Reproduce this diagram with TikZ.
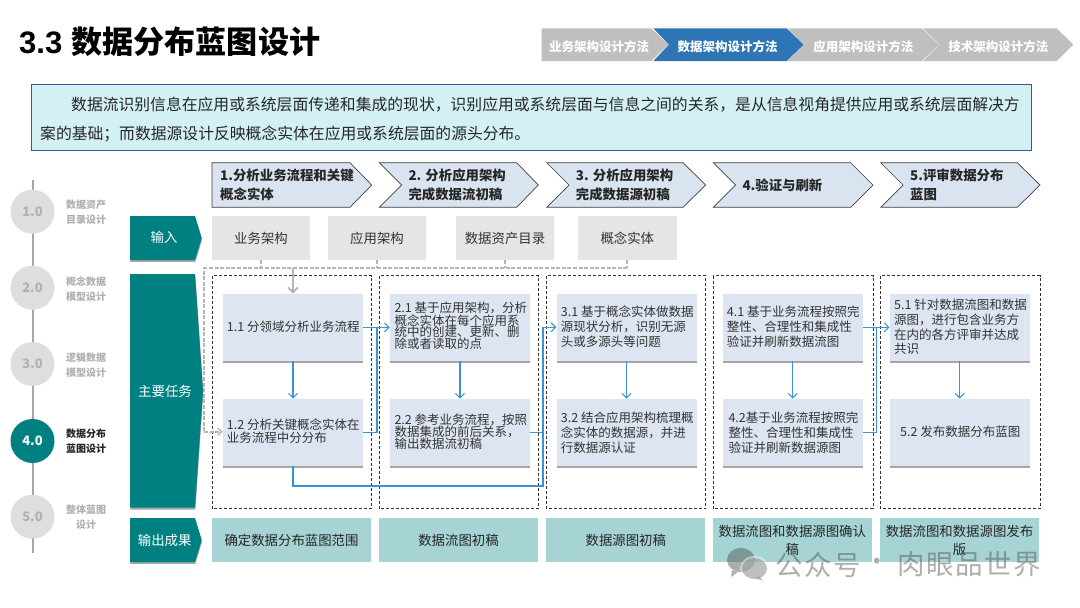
\documentclass[tikz,border=0pt]{standalone}
\usepackage{fontspec}
\setmainfont{Noto Sans CJK SC}
\newfontfamily\titlelatin{Liberation Sans}
\usetikzlibrary{shadows,arrows.meta}
\definecolor{teal0}{HTML}{008080}
\definecolor{navgray}{HTML}{BFBFBF}
\definecolor{navblue}{HTML}{2E75B6}
\definecolor{hdrfill}{HTML}{DAE3F0}
\definecolor{taskfill}{HTML}{DCE5F1}
\definecolor{ingray}{HTML}{E5E5E5}
\definecolor{outfill}{HTML}{A6D3D3}
\definecolor{introfill}{HTML}{D3F0F5}
\definecolor{introline}{HTML}{2F5C96}
\definecolor{flow}{HTML}{3A93D6}
\definecolor{dash0}{HTML}{B5B5B5}
\definecolor{circ}{HTML}{DEDEDE}
\definecolor{muted}{HTML}{B0B0B0}
\definecolor{body}{HTML}{333333}
\tikzset{
  softshadow/.style={drop shadow={shadow xshift=0.4pt,shadow yshift=-1.8pt,fill=black,opacity=.35}},
  navtext/.style={text=white,font={\fontsize{12.5}{15}\selectfont\bfseries},inner sep=0pt},
  hdrshape/.style={fill=hdrfill,draw=black!75,line width=.7pt},
  hdrtext/.style={anchor=west,align=left,inner sep=0pt,text=black!85,font={\fontsize{13.4}{19}\selectfont\bfseries}},
  tealshape/.style={fill=teal0,softshadow},
  tealtext/.style={text=white,inner sep=0pt,font={\fontsize{13.4}{16}\selectfont}},
  inbox/.style={fill=ingray,minimum width=98.4pt,minimum height=44pt,inner sep=0pt,text=body,font={\fontsize{13.4}{16}\selectfont}},
  outbox/.style={fill=outfill,minimum width=159pt,minimum height=44pt,inner sep=0pt,align=center,text=black!85,font={\fontsize{13.4}{18}\selectfont}},
  colbox/.style={draw=black!80,densely dashed,line width=.6pt},
  taskbox/.style={fill=taskfill,minimum width=140pt,minimum height=67pt,inner sep=0pt,softshadow},
  tasktext/.style={anchor=west,align=left,inner sep=0pt,text=body,font={\fontsize{12.5}{#1}\selectfont}},
  flowline/.style={draw=flow,line width=1.1pt},
  flowarrow/.style={flowline,-{Straight Barb[length=4.5pt,width=9pt,line width=1.1pt]}},
  grayfeed/.style={draw=dash0,line width=1.8pt,dash pattern=on 4pt off 1.6pt},
  stepcirc/.style={circle,fill=circ,minimum size=44pt,inner sep=0pt,text=muted,font={\fontsize{13}{15}\selectfont\bfseries}},
  steplabel/.style={align=center,inner sep=0pt,text=muted,font={\fontsize{10}{15}\selectfont\bfseries}},
  wmtext/.style={anchor=west,inner sep=0pt,text=black!70,font={\fontsize{27.5}{30}\selectfont\addfontfeature{LetterSpace=6}}},
}
% task box plus its text: name, cx, cy, text x, text y, line spacing, text
\newcommand{\taskitem}[7]{%
  \node[taskbox] (#1) at (#2,#3) {};
  \node[tasktext=#6] (#1txt) at (#4,#5) {#7};
}
\begin{document}
\begin{tikzpicture}[x=1pt,y=-1pt]
\useasboundingbox (0,0) rectangle (1080,608);
\fill[white] (0,0) rectangle (1080,608);

% title
\node[anchor=west,inner sep=0pt,text=black,font={\fontsize{31.1}{36}\selectfont\bfseries}] (title) at (19,42) {{\titlelatin\bfseries 3.3}\hspace{9pt}数据分布蓝图设计};

% navigation
\fill[navgray] (541.7,28.3) -- (651,28.3) -- (668.7,44.7) -- (651,61) -- (541.7,61) -- cycle;
\fill[navgray] (787.7,28.3) -- (921.7,28.3) -- (939,44.7) -- (921.7,61) -- (787.7,61) -- (804,44.7) -- cycle;
\fill[navgray] (923,28.3) -- (1056.7,28.3) -- (1073.3,44.7) -- (1056.7,61) -- (923,61) -- (939.5,44.7) -- cycle;
\fill[navblue] (653.3,28.3) -- (786.7,28.3) -- (803.7,44.7) -- (786.7,61) -- (653.3,61) -- (669,44.7) -- cycle;
\node[navtext] (nav1) at (599,47) {业务架构设计方法};
\node[navtext] (nav2) at (727.7,47) {数据架构设计方法};
\node[navtext] (nav3) at (863.3,47) {应用架构设计方法};
\node[navtext] (nav4) at (998.3,47) {技术架构设计方法};

% intro
\draw[fill=introfill,draw=introline,line width=.8pt] (31.3,84.3) rectangle (1031.7,150.7);
\node[anchor=west,align=left,inner sep=0pt,text=black!85,font={\fontsize{15.81}{29}\selectfont}] (intro) at (40,119.5)
  {\hspace*{31pt}数据流识别信息在应用或系统层面传递和集成的现状，识别应用或系统层面与信息之间的关系，是从信息视角提供应用或系统层面解决方\\案的基础；而数据源设计反映概念实体在应用或系统层面的源头分布。};

% timeline
\draw[draw=black!35,line width=2pt] (32.5,180) -- (32.5,553);
\node[stepcirc] (c1) at (32.5,211.7) {1.0};
\node[stepcirc] (c2) at (32.5,287.7) {2.0};
\node[stepcirc] (c3) at (32.5,364) {3.0};
\node[stepcirc,fill=teal0,text=white] (c4) at (32.5,441) {4.0};
\node[stepcirc] (c5) at (32.5,516.7) {5.0};
\node[steplabel] (l1) at (86,212.5) {数据资产\\目录设计};
\node[steplabel] (l2) at (86,289) {概念数据\\模型设计};
\node[steplabel] (l3) at (86,365) {逻辑数据\\模型设计};
\node[steplabel,text=black!85] (l4) at (86,441) {数据分布\\蓝图设计};
\node[steplabel] (l5) at (86,517) {整体蓝图\\设计};

% header chevrons
\path[hdrshape] (212,162.7) -- (350,162.7) -- (371.7,185) -- (350,207.3) -- (212,207.3) -- cycle;
\path[hdrshape] (379.3,162.7) -- (516.7,162.7) -- (538.3,185) -- (516.7,207.3) -- (379.3,207.3) -- (401.7,185) -- cycle;
\path[hdrshape] (546.7,162.7) -- (683,162.7) -- (705.7,185) -- (683,207.3) -- (546.7,207.3) -- (569,185) -- cycle;
\path[hdrshape] (713.3,162.7) -- (850.7,162.7) -- (873,185) -- (850.7,207.3) -- (713.3,207.3) -- (735.7,185) -- cycle;
\path[hdrshape] (880.7,162.7) -- (1017.3,162.7) -- (1040,185) -- (1017.3,207.3) -- (880.7,207.3) -- (903,185) -- cycle;
\node[hdrtext] (h1) at (220,184.5) {1.分析业务流程和关键\\概念实体};
\node[hdrtext] (h2) at (408.3,184.5) {2. 分析应用架构\\完成数据流初稿};
\node[hdrtext] (h3) at (575.7,184.5) {3. 分析应用架构\\完成数据源初稿};
\node[hdrtext] (h4) at (742.3,185) {4.验证与刷新};
\node[hdrtext] (h5) at (910,184.5) {5.评审数据分布\\蓝图};

% teal row labels
\path[tealshape] (130,216) -- (195,216) -- (201.7,238) -- (195,260) -- (130,260) -- cycle;
\path[tealshape] (130,274) -- (195,274) -- (203,391) -- (195,507.7) -- (130,507.7) -- cycle;
\path[tealshape] (130,518) -- (195,518) -- (201.7,540) -- (195,562) -- (130,562) -- cycle;
\node[tealtext] (rinput) at (164,237.7) {输入};
\node[tealtext] (rtask) at (165,391) {主要任务};
\node[tealtext] (routput) at (164.7,540) {输出成果};

% inputs
\node[inbox] (in1) at (261,238) {业务架构};
\node[inbox] (in2) at (377,238) {应用架构};
\node[inbox] (in3) at (505,238) {数据资产目录};
\node[inbox] (in4) at (627.3,238) {概念实体};

% column frames
\draw[colbox] (212.3,275.7) rectangle (371.7,508.7);
\draw[colbox] (379.3,275.7) rectangle (538.7,508.7);
\draw[colbox] (546.7,275.7) rectangle (705.7,508.7);
\draw[colbox] (713.3,275.7) rectangle (873,508.7);
\draw[colbox] (880.7,275.7) rectangle (1040,508.7);

% tasks
\taskitem{t11}{293}{327.3}{226.7}{326.7}{15}{1.1 分领域分析业务流程}
\taskitem{t12}{293}{432.3}{226.7}{431}{12.7}{1.2 分析关键概念实体在\\业务流程中分分布}
\taskitem{t21}{460}{327.3}{394.3}{325.7}{11.7}{2.1 基于应用架构，分析\\概念实体在每个应用系\\统中的创建、更新、删\\除或者读取的点}
\taskitem{t22}{460}{432.3}{394.3}{431.7}{12}{2.2 参考业务流程，按照\\数据集成的前后关系，\\输出数据流初稿}
\taskitem{t31}{626.5}{327.3}{560.7}{326.7}{15}{3.1 基于概念实体做数据\\源现状分析，识别无源\\头或多源头等问题}
\taskitem{t32}{626.5}{432.3}{560.7}{432.7}{15}{3.2 结合应用架构梳理概\\念实体的数据源，并进\\行数据源认证}
\taskitem{t41}{792.7}{327.3}{726.7}{327}{15}{4.1 基于业务流程按照完\\整性、合理性和集成性\\验证并刷新数据流图}
\taskitem{t42}{792.7}{432.3}{728.3}{432.7}{15}{4.2基于业务流程按照完\\整性、合理性和集成性\\验证并刷新数据源图}
\taskitem{t51}{959.7}{327.3}{894}{327}{14.8}{5.1 针对数据流图和数据\\源图，进行包含业务方\\在内的各方评审并达成\\共识}
\taskitem{t52}{959.7}{432.3}{900}{432}{15}{5.2 发布数据分布蓝图}

% grey feed
\coordinate (busTL) at (204,268.3);
\coordinate (busTR) at (627.3,268.3);
\coordinate (busBL) at (204,431.7);
\draw[grayfeed] (in1.south) -- (in1.south |- busTL);
\draw[grayfeed] (in2.south) -- (in2.south |- busTL);
\draw[grayfeed] (in3.south) -- (in3.south |- busTL);
\draw[grayfeed] (in4.south) -- (busTR);
\draw[grayfeed] (busTR) -- (busTL) -- (busBL);
\draw[grayfeed,-{Straight Barb[length=4pt,width=7pt,line width=1.3pt]}] (busBL) -- (t12.west |- busBL);
\draw[dash0,line width=1.7pt,-{Straight Barb[length=5pt,width=10pt,line width=1.7pt]}] (t11.north |- busTL) -- (t11.north);

% flow connectors
\coordinate (j1) at (377,327.3);
\coordinate (j2) at (543,327.3);
\coordinate (j3) at (876.5,327.3);
\draw[flowarrow] (t11.east) -- (t21.west);
\draw[flowline] (t12.east) -| (j1);
\draw[flowarrow] (t11.south) -- (t12.north);
\draw[flowarrow] (t21.south) -- (t22.north);
\draw[flowarrow] (t31.south) -- (t32.north);
\draw[flowarrow] (t41.south) -- (t42.north);
\draw[flowarrow] (t51.south) -- (t52.north);
\coordinate (lowturn) at (293,486);
\draw[flowline] (t12.south) -- (lowturn) -| (j2);
\draw[flowline] (t22.east) -| (j2);
\draw[flowarrow] (j2) -- (t31.west);
\draw[flowarrow] (t41.east) -- (t51.west);
\draw[flowline] (t42.east) -| (j3);

% outputs
\node[outbox] (o1) at (291.5,540) {确定数据分布蓝图范围};
\node[outbox] (o2) at (458.5,540) {数据流图初稿};
\node[outbox] (o3) at (625.8,540) {数据源图初稿};
\node[outbox] (o4) at (792.3,540) {数据流图和数据源图确认\\稿};
\node[outbox] (o5) at (959.5,540) {数据流图和数据源图发布\\版};

% watermark
\begin{scope}[opacity=.45]
\fill[black!70] (741,560) ellipse (14pt and 12pt);
\fill[black!70] (732,570) -- (731,577) -- (738,572) -- cycle;
\fill[white] (754.5,568.5) ellipse (14.5pt and 12.5pt);
\fill[black!55] (754.5,568.5) ellipse (12.5pt and 10.5pt);
\fill[black!55] (760,577) -- (763,581) -- (755,578) -- cycle;
\node[wmtext] (wm1) at (775,564.5) {公众号};
\node[wmtext] (wm2) at (863,564.5) {·};
\node[wmtext] (wm3) at (897,564.5) {肉眼品世界};
\end{scope}
\end{tikzpicture}
\end{document}
